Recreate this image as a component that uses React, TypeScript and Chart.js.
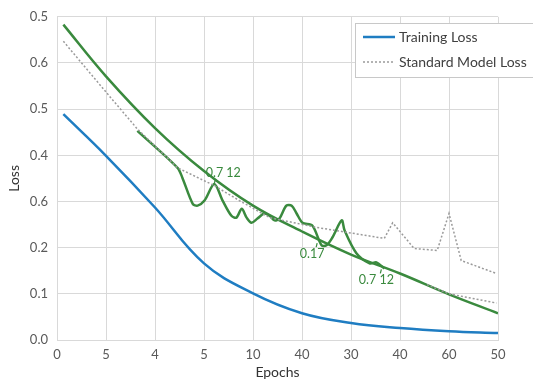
import React, { useEffect, useRef } from "react";
import { Chart, registerables } from "chart.js";

Chart.register(...registerables);

// Axis tick labels (as printed in the reference)
const xTickLabels = ["0", "5", "4", "5", "10", "40", "30", "40", "60", "50"];
const yTickLabels = ["0.0", "0.1", "0.2", "0.6", "0.4", "0.5", "0.6", "0.5"];

// Training Loss (blue)
const trainX = [0.13, 1, 2, 3, 4, 5, 6, 7, 8, 9];
const trainY = [0.489, 0.399, 0.287, 0.166, 0.101, 0.058, 0.037, 0.026, 0.019, 0.015];

// Standard Model Loss (grey dotted)
const stdX = [0.13, 1.0, 1.64, 2.46, 3.2, 3.72, 4.34, 5.29, 6.68, 6.85, 7.29, 7.76, 8.0, 8.25, 8.97];
const stdY = [0.647, 0.537, 0.457, 0.373, 0.335, 0.302, 0.265, 0.244, 0.22, 0.254, 0.198, 0.194, 0.274, 0.172, 0.144];

// Lower grey dotted tail
const stdTailX = [7.55, 8.0, 8.97];
const stdTailY = [0.12, 0.1, 0.08];

// Smooth green trend
const trendX = [0.13, 1, 2, 3, 4, 5, 6, 7, 8, 9];
const trendY = [0.683, 0.571, 0.459, 0.366, 0.291, 0.235, 0.185, 0.144, 0.099, 0.058];

// Wiggly green curve
const wigX = [1.64, 2.46, 2.56, 2.77, 2.87, 3.01, 3.21, 3.38, 3.56, 3.66, 3.77, 3.87, 3.97, 4.09, 4.23, 4.34, 4.44, 4.54, 4.68, 4.79, 4.89, 5.01, 5.21, 5.4, 5.5, 5.62, 5.81, 5.87, 6.11, 6.38, 6.52, 6.68];
const wigY = [0.453, 0.373, 0.351, 0.295, 0.291, 0.302, 0.338, 0.302, 0.269, 0.265, 0.284, 0.265, 0.254, 0.263, 0.274, 0.269, 0.259, 0.263, 0.291, 0.291, 0.274, 0.254, 0.248, 0.205, 0.205, 0.222, 0.259, 0.237, 0.188, 0.166, 0.168, 0.155];

// Annotations
const annotText = ["0.7 12", "0.17", "0.7 12"];
const annotX = [3.21, 5.33, 6.64];
const annotY = [0.338, 0.212, 0.155];
const annotAbove = [true, false, false];

const FONT = "Lato, 'Open Sans', sans-serif";
const BLUE = "#1f7dc2";
const GREEN = "#3a8a3e";
const GREY = "#9a9a9a";
const GRID = "#d9d9d9";

const zip = (xs: number[], ys: number[]) => xs.map((x, i) => ({ x, y: ys[i] }));

const legendPlugin = {
  id: "customLegend",
  afterDraw(chart: any) {
    const ctx = chart.ctx;
    const items = chart.data.datasets.filter((d: any) => d.showInLegend);
    ctx.save();
    const bx = 355.5, by = 23.5, bw = 190, bh = 54;
    ctx.fillStyle = "#ffffff";
    ctx.fillRect(bx, by, bw, bh);
    ctx.strokeStyle = "#c8c8c8";
    ctx.lineWidth = 1;
    ctx.strokeRect(bx, by, bw, bh);
    items.forEach((d: any, i: number) => {
      const y = 37 + i * 25;
      ctx.beginPath();
      ctx.strokeStyle = d.borderColor;
      ctx.lineWidth = d.borderWidth;
      ctx.setLineDash(d.borderDash || []);
      ctx.moveTo(363, y);
      ctx.lineTo(395, y);
      ctx.stroke();
      ctx.setLineDash([]);
      ctx.fillStyle = "#404040";
      ctx.font = `14px ${FONT}`;
      ctx.textBaseline = "middle";
      ctx.textAlign = "left";
      ctx.fillText(d.label, 399, y);
    });
    ctx.restore();
  },
};

const annotPlugin = {
  id: "annotations",
  afterDatasetsDraw(chart: any) {
    const ctx = chart.ctx;
    const xs = chart.scales.x, ys = chart.scales.y;
    ctx.save();
    ctx.fillStyle = GREEN;
    ctx.strokeStyle = GREEN;
    ctx.lineWidth = 1.2;
    ctx.font = `12.5px ${FONT}`;
    ctx.textAlign = "center";
    ctx.textBaseline = "middle";
    annotText.forEach((t, i) => {
      const px = xs.getPixelForValue(annotX[i]);
      const py = ys.getPixelForValue(annotY[i]);
      if (annotAbove[i]) {
        ctx.beginPath();
        ctx.moveTo(px, py - 1);
        ctx.lineTo(px + 1.5, py - 5);
        ctx.stroke();
        ctx.fillText(t, px + 9, py - 11);
      } else {
        ctx.beginPath();
        ctx.moveTo(px - 1, py + 1);
        ctx.lineTo(px - 2, py + 5);
        ctx.stroke();
        ctx.fillText(t, px - 6, py + 12);
      }
    });
    ctx.restore();
  },
};

export default function App() {
  const ref = useRef<HTMLCanvasElement>(null);
  useEffect(() => {
    if (!ref.current) return;
    const chart = new Chart(ref.current, {
      type: "line",
      data: {
        datasets: [
          {
            label: "Training Loss",
            data: zip(trainX, trainY),
            borderColor: BLUE,
            borderWidth: 2.5,
            pointRadius: 0,
            tension: 0.4,
            showInLegend: true,
          } as any,
          {
            label: "Standard Model Loss",
            data: zip(stdX, stdY),
            borderColor: GREY,
            borderWidth: 1.5,
            borderDash: [2, 2],
            pointRadius: 0,
            tension: 0,
            showInLegend: true,
          } as any,
          {
            label: "std tail",
            data: zip(stdTailX, stdTailY),
            borderColor: GREY,
            borderWidth: 1.5,
            borderDash: [2, 2],
            pointRadius: 0,
            tension: 0,
          } as any,
          {
            label: "trend",
            data: zip(trendX, trendY),
            borderColor: GREEN,
            borderWidth: 2.5,
            pointRadius: 0,
            tension: 0.4,
          } as any,
          {
            label: "wiggle",
            data: zip(wigX, wigY),
            borderColor: GREEN,
            borderWidth: 2.5,
            pointRadius: 0,
            tension: 0.3,
          } as any,
        ],
      },
      options: {
        responsive: false,
        animation: false,
        layout: { padding: { left: 0, top: 16, right: 35, bottom: 0 } },
        plugins: { legend: { display: false }, tooltip: { enabled: false } },
        scales: {
          x: {
            type: "linear",
            min: 0,
            max: 9,
            ticks: {
              stepSize: 1,
              autoSkip: false,
              maxRotation: 0,
              padding: 7,
              color: "#595959",
              font: { size: 13, family: FONT },
              callback: (_v: any, i: number) => xTickLabels[i],
            },
            grid: { color: GRID, drawTicks: false },
            border: { color: GRID },
            title: {
              display: true,
              text: "Epochs",
              color: "#333333",
              font: { size: 14, family: FONT },
              padding: { top: 0, bottom: 0 },
            },
            afterFit: (s: any) => {
              s.height = 41;
            },
          },
          y: {
            type: "linear",
            min: 0,
            max: 0.7,
            ticks: {
              stepSize: 0.1,
              padding: 9,
              color: "#595959",
              font: { size: 13, family: FONT },
              callback: (_v: any, i: number) => yTickLabels[i],
            },
            grid: { color: GRID, drawTicks: false },
            border: { color: GRID },
            title: {
              display: true,
              text: "Loss",
              color: "#333333",
              font: { size: 14, family: FONT },
              padding: { top: 6, bottom: 0 },
            },
            afterFit: (s: any) => {
              s.width = 57;
            },
          },
        },
      } as any,
      plugins: [annotPlugin, legendPlugin],
    });
    return () => chart.destroy();
  }, []);
  return (
    <div style={{ position: "fixed", left: 0, top: 0, width: 533, height: 381, background: "#fff" }}>
      <canvas ref={ref} width={533} height={381} />
    </div>
  );
}
